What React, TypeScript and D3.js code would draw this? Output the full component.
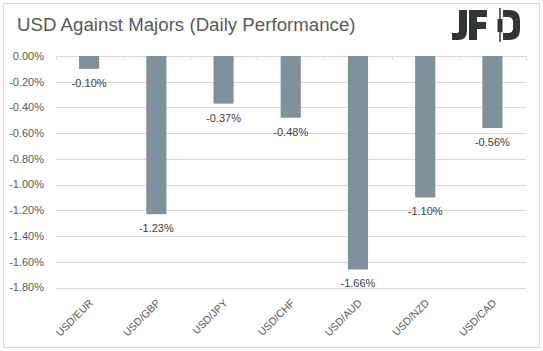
import React from 'react';
import { scaleBand, scaleLinear, range } from 'd3';

const categories = ['USD/EUR', 'USD/GBP', 'USD/JPY', 'USD/CHF', 'USD/AUD', 'USD/NZD', 'USD/CAD'];
const values = [-0.10, -1.23, -0.37, -0.48, -1.66, -1.10, -0.56];
const yTicks = range(0, 10).map(i => -i * 0.2);

const W = 543;
const H = 351;
const left = 55.5;
const right = 526;
const top = 56;
const bottom = 287.5;

const font = '"Liberation Sans", Arial, sans-serif';

const App = () => {
  const x = scaleBand<string>().domain(categories).range([left, right]).paddingInner(0.7).paddingOuter(0.35);
  const bandAll = scaleBand<string>().domain(categories).range([left, right]);
  const y = scaleLinear().domain([0, -1.8]).range([top, bottom]);
  const fmt = (v: number) => v.toFixed(2) + '%';

  return (
    <svg width={W} height={H} style={{ position: 'absolute', left: 0, top: 0 }} fontFamily={font}>
      <rect x={0} y={0} width={W} height={H} fill="#fff" />
      <rect x={3.5} y={3.5} width={536} height={344} fill="none" stroke="#d9d9d9" />
      <text x={17} y={31} fontSize={18.7} fill="#595959">USD Against Majors (Daily Performance)</text>

      {/* logo */}
      <g fill="#30353a">
        <path d="M459,10 H467 V31 Q467,40 458,40 H452 V33 H457 Q459,33 459,31 Z" />
        <path d="M469,10 H487 V17 H477 V22 H486 V29 H477 V40 H469 Z" />
        <line x1={500} x2={500} y1={8} y2={42} stroke="#30353a" strokeWidth={1.5} />
        <rect x={497.5} y={19} width={5} height={13} />
        <path d="M503,10 H509 Q520,10 520,21 V29 Q520,40 509,40 H503 V33 H508 Q513,33 513,28 V22 Q513,17 508,17 H503 Z" />
      </g>

      {yTicks.map(t => (
        <g key={t}>
          <line x1={left} x2={right} y1={Math.round(y(t)) + 0.5} y2={Math.round(y(t)) + 0.5} stroke="#d9d9d9" />
          <text x={44} y={y(t)} dy="0.35em" textAnchor="end" fontSize={11} fill="#595959">{fmt(t)}</text>
        </g>
      ))}
      {range(categories.length + 1).map(i => {
        const xx = Math.round(left + i * bandAll.step()) + 0.5;
        return <line key={i} x1={xx} x2={xx} y1={top} y2={top + 4} stroke="#d9d9d9" />;
      })}

      {categories.map((c, i) => (
        <rect key={c} x={x(c)} y={y(0)} width={x.bandwidth()} height={y(values[i]) - y(0)} fill="#7f929c" />
      ))}
      {categories.map((c, i) => (
        <text key={c} x={x(c)! + x.bandwidth() / 2} y={y(values[i]) + 18} textAnchor="middle" fontSize={11} fill="#404040">
          {fmt(values[i])}
        </text>
      ))}

      {categories.map(c => {
        const cx = bandAll(c)! + bandAll.bandwidth() / 2 + 2;
        return (
          <text key={c} transform={`translate(${cx},${301}) rotate(-45)`} textAnchor="end" dy="0.35em" fontSize={10.5} fill="#595959">
            {c}
          </text>
        );
      })}
    </svg>
  );
};

export default App;
